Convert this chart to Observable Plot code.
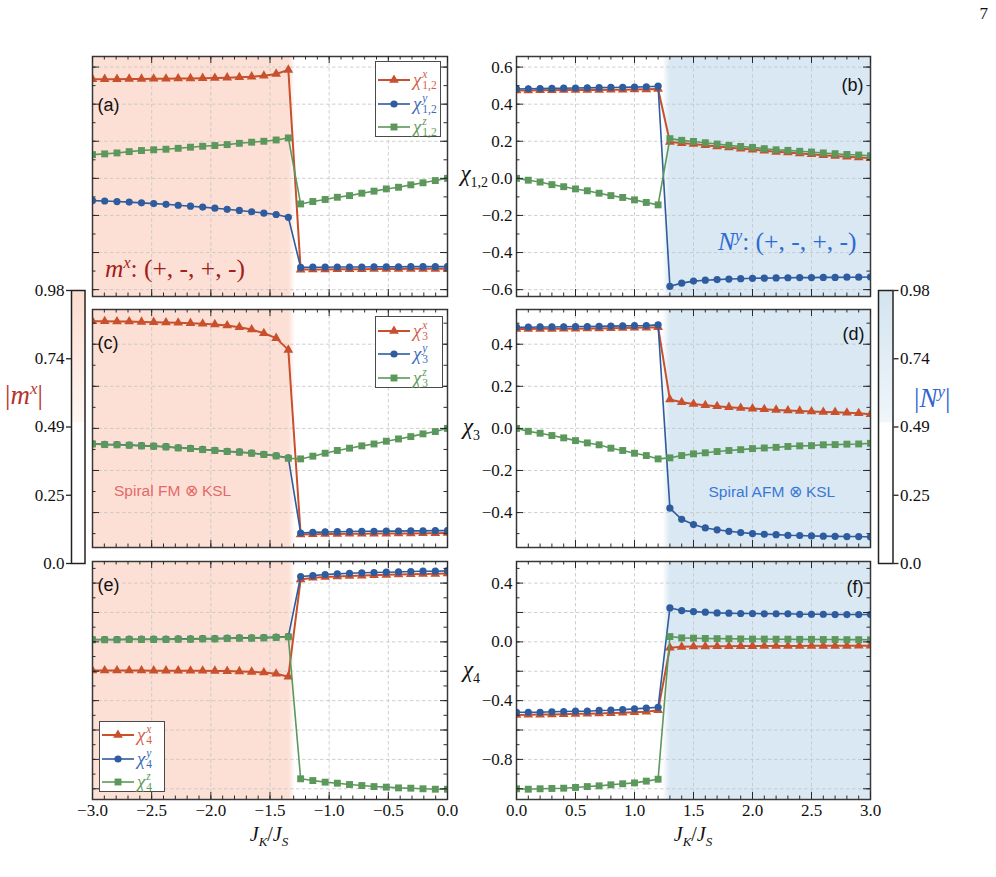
<!DOCTYPE html>
<html>
<head>
<meta charset="utf-8">
<script src="https://cdn.jsdelivr.net/npm/d3@7"></script>
<script src="https://cdn.jsdelivr.net/npm/@observablehq/plot@0.6"></script>
<style>
  body { margin: 0; background: #fff; }
  #fig { position: relative; width: 996px; height: 877px; overflow: hidden; font-family: "Liberation Serif", serif; color: #111; }
  #fig > svg { position: absolute; overflow: visible; }
  .abs { position: absolute; white-space: nowrap; line-height: 1; }
  .legend { position: absolute; background: #fff; border: 1px solid #4a4a4a; box-sizing: border-box; }
  .lrow { position: absolute; left: 0; display: flex; align-items: center; transform: translateY(-50%); }
  .chi { font-style: italic; font-size: 19px; }
  .ss { display: inline-flex; flex-direction: column; font-size: 11.5px; line-height: 0.95; margin-left: 1px; }
</style>
</head>
<body>
<div id="fig"></div>
<script>
// ---- sampled couplings J_K/J_S ----
const xLeft = [-3.000,-2.897,-2.793,-2.690,-2.586,-2.483,-2.379,-2.276,-2.172,-2.069,-1.966,-1.862,-1.759,-1.655,-1.552,-1.448,-1.345,-1.241,-1.138,-1.034,-0.931,-0.828,-0.724,-0.621,-0.517,-0.414,-0.310,-0.207,-0.103,0.000];
const xRight = [0.0,0.1,0.2,0.3,0.4,0.5,0.6,0.7,0.8,0.9,1.0,1.1,1.2,1.3,1.4,1.5,1.6,1.7,1.8,1.9,2.0,2.1,2.2,2.3,2.4,2.5,2.6,2.7,2.8,2.9,3.0];

// ---- chi_{1,2} ----
const chi12L_x = [0.535,0.535,0.535,0.536,0.536,0.537,0.537,0.538,0.539,0.540,0.541,0.543,0.545,0.548,0.553,0.563,0.585,-0.492,-0.491,-0.491,-0.490,-0.490,-0.490,-0.489,-0.489,-0.489,-0.488,-0.488,-0.488,-0.487];
const chi12L_y = [-0.120,-0.122,-0.125,-0.128,-0.132,-0.136,-0.140,-0.145,-0.150,-0.155,-0.161,-0.167,-0.173,-0.180,-0.187,-0.195,-0.210,-0.480,-0.479,-0.479,-0.478,-0.478,-0.478,-0.477,-0.477,-0.477,-0.476,-0.476,-0.476,-0.476];
const chi12L_z = [0.128,0.132,0.137,0.144,0.150,0.154,0.157,0.162,0.168,0.173,0.177,0.182,0.189,0.195,0.200,0.207,0.218,-0.138,-0.125,-0.114,-0.102,-0.093,-0.080,-0.069,-0.057,-0.048,-0.035,-0.024,-0.012,0.000];
const chi12R_x = [0.474,0.474,0.475,0.475,0.476,0.476,0.477,0.477,0.478,0.478,0.479,0.480,0.482,0.196,0.190,0.185,0.179,0.172,0.166,0.160,0.155,0.149,0.143,0.139,0.134,0.130,0.125,0.121,0.117,0.113,0.109];
const chi12R_y = [0.482,0.483,0.484,0.485,0.486,0.487,0.488,0.489,0.490,0.491,0.492,0.494,0.497,-0.582,-0.565,-0.554,-0.549,-0.546,-0.543,-0.541,-0.539,-0.538,-0.537,-0.536,-0.535,-0.535,-0.534,-0.534,-0.533,-0.533,-0.532];
const chi12R_z = [0.000,-0.010,-0.020,-0.034,-0.045,-0.057,-0.067,-0.080,-0.093,-0.103,-0.116,-0.130,-0.143,0.214,0.205,0.199,0.192,0.185,0.178,0.172,0.167,0.160,0.154,0.151,0.146,0.142,0.137,0.133,0.129,0.126,0.122];

// ---- chi_3 ----
const chi3L_x = [0.509,0.509,0.508,0.508,0.506,0.505,0.503,0.502,0.500,0.497,0.494,0.489,0.481,0.470,0.452,0.429,0.373,-0.504,-0.503,-0.502,-0.502,-0.501,-0.501,-0.500,-0.500,-0.499,-0.499,-0.498,-0.498,-0.497];
const chi3L_y = [-0.073,-0.076,-0.077,-0.079,-0.082,-0.084,-0.087,-0.092,-0.095,-0.100,-0.104,-0.109,-0.112,-0.117,-0.123,-0.130,-0.140,-0.497,-0.494,-0.492,-0.491,-0.490,-0.489,-0.489,-0.488,-0.488,-0.487,-0.487,-0.486,-0.486];
const chi3L_z = [-0.074,-0.077,-0.078,-0.080,-0.083,-0.085,-0.088,-0.093,-0.096,-0.101,-0.105,-0.110,-0.113,-0.118,-0.124,-0.131,-0.142,-0.145,-0.132,-0.118,-0.105,-0.094,-0.083,-0.074,-0.061,-0.050,-0.039,-0.026,-0.015,0.000];
const chi3R_x = [0.472,0.472,0.473,0.473,0.474,0.474,0.475,0.475,0.476,0.477,0.478,0.479,0.481,0.137,0.124,0.116,0.110,0.105,0.101,0.097,0.094,0.091,0.088,0.085,0.083,0.080,0.078,0.077,0.074,0.072,0.067];
const chi3R_y = [0.481,0.481,0.482,0.482,0.483,0.484,0.484,0.485,0.486,0.487,0.488,0.489,0.492,-0.379,-0.432,-0.457,-0.473,-0.482,-0.489,-0.495,-0.500,-0.503,-0.505,-0.508,-0.509,-0.511,-0.512,-0.513,-0.514,-0.514,-0.516];
const chi3R_z = [0.000,-0.014,-0.023,-0.034,-0.045,-0.058,-0.069,-0.078,-0.094,-0.105,-0.118,-0.129,-0.145,-0.140,-0.129,-0.121,-0.116,-0.110,-0.105,-0.101,-0.096,-0.093,-0.090,-0.086,-0.083,-0.082,-0.078,-0.077,-0.075,-0.074,-0.071];

// ---- chi_4 ----
const chi4L_x = [-0.195,-0.195,-0.195,-0.195,-0.195,-0.196,-0.196,-0.196,-0.197,-0.197,-0.198,-0.199,-0.201,-0.204,-0.209,-0.217,-0.237,0.425,0.436,0.441,0.445,0.449,0.451,0.454,0.456,0.458,0.460,0.462,0.463,0.465];
const chi4L_y = [0.016,0.016,0.016,0.018,0.018,0.018,0.018,0.020,0.020,0.022,0.022,0.025,0.027,0.027,0.029,0.032,0.036,0.445,0.451,0.458,0.463,0.467,0.470,0.472,0.474,0.476,0.479,0.481,0.481,0.483];
const chi4L_z = [0.014,0.014,0.014,0.016,0.016,0.016,0.016,0.018,0.018,0.020,0.020,0.023,0.025,0.025,0.027,0.030,0.034,-0.932,-0.944,-0.955,-0.962,-0.971,-0.978,-0.985,-0.989,-0.994,-0.996,-1.000,-1.003,-1.003];
const chi4R_x = [-0.497,-0.496,-0.495,-0.494,-0.492,-0.490,-0.489,-0.487,-0.485,-0.482,-0.479,-0.476,-0.465,-0.040,-0.034,-0.032,-0.031,-0.030,-0.030,-0.029,-0.029,-0.028,-0.028,-0.028,-0.028,-0.027,-0.027,-0.027,-0.027,-0.026,-0.026];
const chi4R_y = [-0.479,-0.479,-0.479,-0.476,-0.474,-0.472,-0.472,-0.467,-0.465,-0.461,-0.456,-0.451,-0.445,0.231,0.213,0.206,0.202,0.197,0.195,0.193,0.193,0.191,0.191,0.191,0.188,0.188,0.188,0.186,0.186,0.186,0.186];
const chi4R_z = [-1.000,-1.003,-1.000,-0.998,-0.996,-0.991,-0.985,-0.980,-0.973,-0.966,-0.960,-0.948,-0.935,0.036,0.027,0.025,0.023,0.022,0.021,0.020,0.019,0.019,0.018,0.018,0.017,0.017,0.016,0.016,0.015,0.015,0.014];

// ---- phase boundaries (shaded regions) ----
const fmRegion = [-3.0, -1.34, -1.285];   // start, fade start, fade end
const afmRegion = [1.24, 1.305, 3.0];     // fade start, fade end, end

// ---- tick labels ----
const xTicksLeft = [-3.0,-2.5,-2.0,-1.5,-1.0,-0.5,0.0];
const xTicksRight = [0.0,0.5,1.0,1.5,2.0,2.5,3.0];
const yTicks12 = [-0.6,-0.4,-0.2,0.0,0.2,0.4,0.6];
const yTicks3 = [-0.4,-0.2,0.0,0.2,0.4];
const yTicks4 = [-0.8,-0.4,0.0,0.4];
const cbTicks = [0, 0.245, 0.49, 0.735, 0.98];
const cbLabels = ["0.0", "0.25", "0.49", "0.74", "0.98"];

// ---- styling ----
const RED = "#c8502d", BLUE = "#2e5c9e", GREEN = "#5c985c";
const RED_T = "#d4604a", BLUE_T = "#3b6cb8", GREEN_T = "#5f9a55";
const SHADE_FM = "#fde0d5", SHADE_AFM = "#d9e8f2";
const FRAME = "#383838", TICK = "#2a2a2a", GRID = "#c4c4c4";
const SERIF = "Liberation Serif", SANS = "Liberation Sans";

const comps = [
  {key: "x", color: RED, text: RED_T, symbol: "triangle", r: 3.6, sw: 2.0},
  {key: "y", color: BLUE, text: BLUE_T, symbol: "circle", r: 3.6, sw: 1.6},
  {key: "z", color: GREEN, text: GREEN_T, symbol: "square", r: 3.9, sw: 1.6}
];

const fig = document.getElementById("fig");

// gradients for the phase shading and the colour bars
const offFM = (fmRegion[1] - fmRegion[0]) / (fmRegion[2] - fmRegion[0]);
const offAFM = (afmRegion[1] - afmRegion[0]) / (afmRegion[2] - afmRegion[0]);
fig.insertAdjacentHTML("beforeend", `
<svg width="0" height="0" style="position:absolute;left:0;top:0"><defs>
  <linearGradient id="shadeFM" x1="0" y1="0" x2="1" y2="0">
    <stop offset="0" stop-color="${SHADE_FM}"/>
    <stop offset="${offFM}" stop-color="${SHADE_FM}"/>
    <stop offset="1" stop-color="${SHADE_FM}" stop-opacity="0"/>
  </linearGradient>
  <linearGradient id="shadeAFM" x1="0" y1="0" x2="1" y2="0">
    <stop offset="0" stop-color="${SHADE_AFM}" stop-opacity="0"/>
    <stop offset="${offAFM}" stop-color="${SHADE_AFM}"/>
    <stop offset="1" stop-color="${SHADE_AFM}"/>
  </linearGradient>
  <linearGradient id="barFM" x1="0" y1="1" x2="0" y2="0">
    <stop offset="0" stop-color="#fff6f2"/>
    <stop offset="1" stop-color="#fcdccf"/>
  </linearGradient>
  <linearGradient id="barAFM" x1="0" y1="1" x2="0" y2="0">
    <stop offset="0" stop-color="#f0f6fa"/>
    <stop offset="1" stop-color="#d3e4ef"/>
  </linearGradient>
</defs></svg>`);

const fmt1 = d => (d < 0 ? "\u2212" : "") + Math.abs(d).toFixed(1);
const stepRange = (lo, hi, step) => {
  const out = [];
  for (let k = Math.ceil(lo / step - 1e-9); k <= Math.floor(hi / step + 1e-9); k++) out.push(+(k * step).toFixed(4));
  return out;
};

// position a rendered plot; axis tick labels get the serif face
function place(svg, left, top) {
  svg.setAttribute("font-family", `"${SERIF}", serif`);
  svg.setAttribute("font-size", "17");
  svg.querySelectorAll("text").forEach(t => {
    const g = t.closest("g");
    if (!g || !g.hasAttribute("font-family")) {
      t.style.fontFamily = `"${SERIF}", serif`;
      t.style.fontSize = "17px";
    }
  });
  svg.style.position = "absolute";
  svg.style.left = left + "px";
  svg.style.top = top + "px";
  svg.style.overflow = "visible";
  fig.appendChild(svg);
}

function panel(p) {
  const {l, t, w, h} = p.frame;
  const ml = p.yLabels ? 60 : 2, mr = 2, mt = 2, mb = p.xLabels ? 50 : 2;
  const [y0, y1] = p.yDomain;
  const xMajor = stepRange(p.xDomain[0], p.xDomain[1], 0.5);
  const xMinor = stepRange(p.xDomain[0], p.xDomain[1], 0.1);
  const yMajor = stepRange(y0, y1, 0.2);
  const yMinor = stepRange(y0, y1, 0.1);
  const gridStyle = {stroke: GRID, strokeWidth: 0.8, strokeDasharray: "3.5,2.5", strokeOpacity: 1};

  const marks = [
    Plot.rect([p.shade], {x1: "x1", x2: "x2", y1: () => y0, y2: () => y1, fill: p.shade.fill}),
    Plot.gridX(xMajor, gridStyle),
    Plot.gridY(yMajor, gridStyle)
  ];
  for (const c of comps) {
    const pts = p.xs.map((x, i) => ({x, v: p.vals[c.key][i]}));
    marks.push(Plot.line(pts, {x: "x", y: "v", stroke: c.color, strokeWidth: c.sw, clip: true}));
    marks.push(Plot.dot(pts, {x: "x", y: "v", symbol: c.symbol, r: c.r, fill: c.color, stroke: "none", clip: true}));
  }
  marks.push(
    Plot.frame({stroke: FRAME, strokeWidth: 1.5}),
    Plot.tickX(xMinor, {insetTop: h - 3.5, stroke: TICK}),
    Plot.tickX(xMinor, {insetBottom: h - 3.5, stroke: TICK}),
    Plot.tickX(xMajor, {insetTop: h - 7, stroke: TICK}),
    Plot.tickX(xMajor, {insetBottom: h - 7, stroke: TICK}),
    Plot.tickY(yMinor, {insetRight: w - 3.5, stroke: TICK}),
    Plot.tickY(yMinor, {insetLeft: w - 3.5, stroke: TICK}),
    Plot.tickY(yMajor, {insetRight: w - 7, stroke: TICK}),
    Plot.tickY(yMajor, {insetLeft: w - 7, stroke: TICK}),
    Plot.text([p.tag], {text: d => d, frameAnchor: p.tagRight ? "top-right" : "top-left",
      textAnchor: p.tagRight ? "end" : "start", lineAnchor: "middle",
      dx: p.tagDx, dy: p.tagDy, fontFamily: SANS, fontSize: 18, fill: "#111"})
  );
  if (p.note) {
    marks.push(Plot.text([p.note.text], {text: d => d, frameAnchor: "top-left", textAnchor: "start",
      lineAnchor: "middle", dx: p.note.dx, dy: p.note.dy, fontFamily: SANS, fontSize: 15.5, fill: p.note.color}));
  }
  if (p.xLabels) {
    marks.push(Plot.axisX(p.xLabels, {anchor: "bottom", tickSize: 0, tickPadding: 4, tickFormat: fmt1, label: null}));
  }
  if (p.yLabels) {
    marks.push(Plot.axisY(p.yLabels, {anchor: "left", tickSize: 0, tickPadding: 4, tickFormat: fmt1, label: null}));
  }
  const svg = Plot.plot({
    width: w + ml + mr, height: h + mt + mb,
    marginLeft: ml, marginRight: mr, marginTop: mt, marginBottom: mb,
    x: {domain: p.xDomain, axis: null},
    y: {domain: p.yDomain, axis: null},
    style: {overflow: "visible", background: "transparent"},
    marks
  });
  place(svg, l - ml, t - mt);
}

const L = {l: 91.7, w: 355}, R = {l: 516, w: 354};
const rows = [
  {t: 56, h: 240, dom: [-0.637, 0.657]},
  {t: 309, h: 238, dom: [-0.566, 0.565]},
  {t: 561, h: 238, dom: [-1.073, 0.547]}
];
const fmShade = {x1: fmRegion[0], x2: fmRegion[2], fill: "url(#shadeFM)"};
const afmShade = {x1: afmRegion[0], x2: afmRegion[2], fill: "url(#shadeAFM)"};

// (a) (b)
panel({xs: xLeft, vals: {x: chi12L_x, y: chi12L_y, z: chi12L_z}, xDomain: [-3, 0], yDomain: rows[0].dom,
  frame: {l: L.l, t: rows[0].t, w: L.w, h: rows[0].h}, shade: fmShade, tag: "(a)", tagDx: 5, tagDy: 49});
panel({xs: xRight, vals: {x: chi12R_x, y: chi12R_y, z: chi12R_z}, xDomain: [0, 3], yDomain: rows[0].dom,
  frame: {l: R.l, t: rows[0].t, w: R.w, h: rows[0].h}, shade: afmShade, tag: "(b)", tagRight: true, tagDx: -7, tagDy: 29,
  yLabels: yTicks12});
// (c) (d)
panel({xs: xLeft, vals: {x: chi3L_x, y: chi3L_y, z: chi3L_z}, xDomain: [-3, 0], yDomain: rows[1].dom,
  frame: {l: L.l, t: rows[1].t, w: L.w, h: rows[1].h}, shade: fmShade, tag: "(c)", tagDx: 5, tagDy: 33.5,
  note: {text: "Spiral FM \u2297 KSL", dx: 21.5, dy: 182, color: "#e4696a"}});
panel({xs: xRight, vals: {x: chi3R_x, y: chi3R_y, z: chi3R_z}, xDomain: [0, 3], yDomain: rows[1].dom,
  frame: {l: R.l, t: rows[1].t, w: R.w, h: rows[1].h}, shade: afmShade, tag: "(d)", tagRight: true, tagDx: -6, tagDy: 24.5,
  yLabels: yTicks3, note: {text: "Spiral AFM \u2297 KSL", dx: 192, dy: 183, color: "#3a78d6"}});
// (e) (f)
panel({xs: xLeft, vals: {x: chi4L_x, y: chi4L_y, z: chi4L_z}, xDomain: [-3, 0], yDomain: rows[2].dom,
  frame: {l: L.l, t: rows[2].t, w: L.w, h: rows[2].h}, shade: fmShade, tag: "(e)", tagDx: 5, tagDy: 24,
  xLabels: xTicksLeft});
panel({xs: xRight, vals: {x: chi4R_x, y: chi4R_y, z: chi4R_z}, xDomain: [0, 3], yDomain: rows[2].dom,
  frame: {l: R.l, t: rows[2].t, w: R.w, h: rows[2].h}, shade: afmShade, tag: "(f)", tagRight: true, tagDx: -7, tagDy: 25.5,
  yLabels: yTicks4, xLabels: xTicksRight});

// colour bars for |m^x| and |N^y|
function colorbar({l, t, w, h, fill, side}) {
  const ml = side === "left" ? 48 : 2, mr = side === "left" ? 2 : 48, mt = 10, mb = 10;
  const labelOf = new Map(cbTicks.map((v, i) => [v, cbLabels[i]]));
  const svg = Plot.plot({
    width: w + ml + mr, height: h + mt + mb,
    marginLeft: ml, marginRight: mr, marginTop: mt, marginBottom: mb,
    x: {domain: [0, 1], axis: null},
    y: {domain: [0, 0.98], axis: null},
    style: {overflow: "visible", background: "transparent"},
    marks: [
      Plot.rect([{lo: 0.505, hi: 0.98}], {x1: () => 0, x2: () => 1, y1: "lo", y2: "hi", fill}),
      Plot.frame({stroke: "#222", strokeWidth: 1.5}),
      Plot.axisY(cbTicks, {anchor: side, tickSize: 5, tickPadding: 2, tickFormat: d => labelOf.get(d),
        label: null, stroke: "#222", strokeWidth: 1.3})
    ]
  });
  place(svg, l - ml, t - mt);
}
colorbar({l: 71, t: 290, w: 13.5, h: 273, fill: "url(#barFM)", side: "left"});
colorbar({l: 877.5, t: 290, w: 14.5, h: 273, fill: "url(#barAFM)", side: "right"});

// ---- text overlays ----
function label(html, x, y, {anchor = "left", size = 17, color = "#111", family = SERIF, italic = false} = {}) {
  const d = document.createElement("div");
  d.className = "abs";
  d.innerHTML = html;
  d.style.left = x + "px";
  d.style.top = y + "px";
  d.style.fontSize = size + "px";
  d.style.color = color;
  d.style.fontFamily = `"${family}", serif`;
  if (italic) d.style.fontStyle = "italic";
  const tx = anchor === "right" ? "-100%" : anchor === "center" ? "-50%" : "0";
  d.style.transform = `translate(${tx}, -50%)`;
  fig.appendChild(d);
}

label("7", 988, 13, {anchor: "right", size: 17});
label("&chi;<sub style='font-size:14px;font-style:normal'>1,2</sub>", 488, 176, {anchor: "right", size: 23, italic: true});
label("&chi;<sub style='font-size:14px;font-style:normal'>3</sub>", 480, 429, {anchor: "right", size: 23, italic: true});
label("&chi;<sub style='font-size:14px;font-style:normal'>4</sub>", 480, 672, {anchor: "right", size: 23, italic: true});

const jkjs = "<i>J</i><sub style='font-size:13px'><i>K</i></sub>/<i>J</i><sub style='font-size:13px'><i>S</i></sub>";
label(jkjs, 269, 836, {anchor: "center", size: 20});
label(jkjs, 693, 836, {anchor: "center", size: 20});

label("<i>m</i><sup style='font-size:16px'><i>x</i></sup>: (+, -, +, -)", 105, 268, {size: 25.5, color: "#a31c1c"});
label("<i>N</i><sup style='font-size:16px'><i>y</i></sup>: (+, -, +, -)", 718, 241, {size: 25.5, color: "#2e6bd2"});
label("|<i>m</i><sup style='font-size:17px'><i>x</i></sup>|", 5, 394, {size: 27, color: "#b5332b"});
label("|<i>N</i><sup style='font-size:17px'><i>y</i></sup>|", 914, 397, {size: 27, color: "#2f63cf"});

// ---- legends ----
function marker(sym, r, color) {
  const type = sym === "triangle" ? d3.symbolTriangle : sym === "square" ? d3.symbolSquare : d3.symbolCircle;
  return `<path transform="translate(17,7)" d="${d3.symbol(type, Math.PI * r * r)()}" fill="${color}"/>`;
}
function legend(box, sub, rowTop) {
  const div = document.createElement("div");
  div.className = "legend";
  Object.assign(div.style, {left: box.l + "px", top: box.t + "px", width: box.w + "px", height: box.h + "px"});
  comps.forEach((c, i) => {
    const row = document.createElement("div");
    row.className = "lrow";
    row.style.top = (rowTop + i * 23.7) + "px";
    row.innerHTML =
      `<svg width="35" height="14" style="margin-left:1px"><line x1="1" x2="33" y1="7" y2="7" stroke="${c.color}" stroke-width="${c.sw}"/>${marker(c.symbol, c.r, c.color)}</svg>` +
      `<span class="chi" style="color:${c.text};margin-left:1px">&chi;</span>` +
      `<span class="ss" style="color:${c.text}"><span style="font-style:italic">${c.key}</span><span>${sub}</span></span>`;
    div.appendChild(row);
  });
  fig.appendChild(div);
}
legend({l: 375, t: 61, w: 66, h: 76}, "1,2", 18);
legend({l: 375, t: 316, w: 68, h: 72}, "3", 13.5);
legend({l: 99, t: 721, w: 66, h: 71}, "4", 13);
</script>
</body>
</html>
